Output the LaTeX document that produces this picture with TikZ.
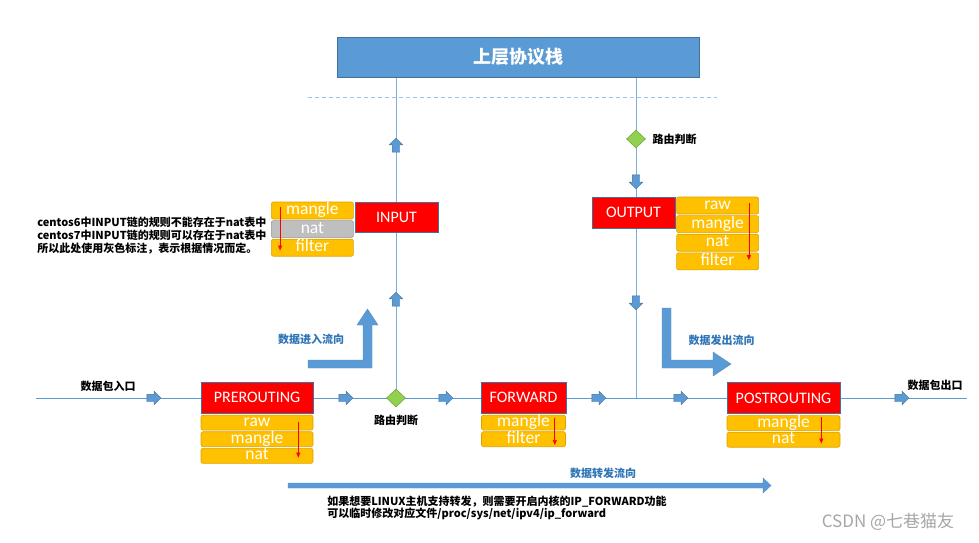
\documentclass[tikz,border=0pt]{standalone}
\usepackage{fontspec}
\setsansfont{Carlito}
\newfontfamily\cjk{Noto Sans CJK SC}
\usepackage{tikz}
\usetikzlibrary{arrows.meta, positioning, shapes.geometric, shapes.arrows, backgrounds}

\definecolor{flowblue}{HTML}{5B9BD5}
\definecolor{edgeblue}{HTML}{41719C}
\definecolor{sepblue}{HTML}{9DC3E6}
\definecolor{labelblue}{HTML}{2E75B6}
\definecolor{tblyellow}{HTML}{FFC000}
\definecolor{tbledge}{HTML}{D9A300}
\definecolor{tblgray}{HTML}{BFBFBF}
\definecolor{judgegreen}{HTML}{92D050}

\begin{document}
\begin{tikzpicture}[x=1pt, y=-1pt, semithick]
	\tikzstyle{protostack}=[rectangle, draw=edgeblue, fill=flowblue, text=white, minimum width=362pt, minimum height=40pt, font=\cjk\bfseries\fontsize{18}{18}\selectfont]
	\tikzstyle{chainbox}=[rectangle, draw=edgeblue, fill=red, text=white, inner sep=0pt, minimum height=31pt, font=\sffamily\fontsize{16}{16}\selectfont]
	\tikzstyle{tablerow}=[rectangle, rounded corners=2pt, draw=tbledge, fill=tblyellow, text=white, inner sep=0pt, minimum height=15pt, text height=11.5pt, text depth=3.5pt, font=\sffamily\fontsize{17.5}{17.5}\selectfont]
	\tikzstyle{routing}=[diamond, fill=judgegreen, draw=judgegreen!80!black, inner sep=0pt, minimum width=19pt, minimum height=18pt]
	\tikzstyle{flowtip}=[single arrow, fill=flowblue, draw=edgeblue, line width=0.4pt, inner sep=3.5pt, minimum width=13pt, minimum height=14pt, single arrow head extend=3pt]
	\tikzstyle{bigflow}=[fill=flowblue, draw=flowblue!90!black, line width=0.4pt]
	\tikzstyle{wire}=[flowblue, line width=0.9pt]
	\tikzstyle{order}=[red, line width=0.7pt, -{Triangle[length=5pt, width=4pt]}]
	\tikzstyle{cjklabel}=[inner sep=0pt, font=\cjk\bfseries\fontsize{11}{13}\selectfont]
	\tikzstyle{flowlabel}=[cjklabel, text=labelblue]

	\useasboundingbox (0,0) rectangle (979,542);

	\coordinate (in) at (36,398);
	\coordinate (out) at (967,398);
	\coordinate (sepl) at (308,97);
	\coordinate (sepr) at (717,97);

	\node[protostack] (proto) at (518,57) {上层协议栈};

	\node[routing] (rt1) at (396,398) {};
	\node[routing] (rt2) at (636,139) {};
	\node[cjklabel, below=7.5pt of rt1] (rt1text) {路由判断};
	\node[cjklabel, right=6.5pt of rt2] (rt2text) {路由判断};

	\node[chainbox, minimum width=112pt] (pre) at (257,397.5) {PREROUTING};
	\node[tablerow, minimum width=112pt, below=1.5pt of pre] (preraw) {raw};
	\node[tablerow, minimum width=112pt, below=1pt of preraw] (premangle) {mangle};
	\node[tablerow, minimum width=112pt, below=1pt of premangle] (prenat) {nat};

	\node[chainbox, minimum width=85pt] (fwd) at (523.5,397.5) {FORWARD};
	\node[tablerow, minimum width=84pt, below=1.5pt of fwd] (fwdmangle) {mangle};
	\node[tablerow, minimum width=84pt, below=1pt of fwdmangle] (fwdfilter) {filter};

	\node[chainbox, minimum width=113pt] (post) at (783.5,398) {POSTROUTING};
	\node[tablerow, minimum width=113pt, below=1.5pt of post] (postmangle) {mangle};
	\node[tablerow, minimum width=113pt, below=1pt of postmangle] (postnat) {nat};

	\node[chainbox, minimum width=83pt, minimum height=30pt] (input) at (396.5,217) {INPUT};
	\node[tablerow, minimum width=82pt, minimum height=17pt, anchor=north east] (inmangle) at ([xshift=-1pt]input.north west) {mangle};
	\node[tablerow, minimum width=82pt, minimum height=17pt, fill=tblgray, draw=gray!80, below=1pt of inmangle] (innat) {nat};
	\node[tablerow, minimum width=82pt, minimum height=17pt, below=1pt of innat] (infilter) {filter};

	\node[chainbox, minimum width=83pt] (output) at (633.5,212.5) {OUTPUT};
	\node[tablerow, minimum width=82pt, minimum height=17pt, anchor=north west] (outraw) at ([xshift=1pt]output.north east) {raw};
	\node[tablerow, minimum width=82pt, minimum height=17pt, below=1pt of outraw] (outmangle) {mangle};
	\node[tablerow, minimum width=82pt, minimum height=17pt, below=1pt of outmangle] (outnat) {nat};
	\node[tablerow, minimum width=82pt, minimum height=17pt, below=1pt of outnat] (outfilter) {filter};

	\draw[order] ([xshift=-15pt, yshift=-7pt]preraw.north east) -- ([xshift=-15pt, yshift=6pt]prenat.south east);
	\draw[order] ([xshift=-11pt, yshift=-3pt]fwdmangle.north east) -- ([xshift=-11pt, yshift=2pt]fwdfilter.south east);
	\draw[order] ([xshift=-19pt, yshift=-2pt]postmangle.north east) -- ([xshift=-19pt, yshift=4pt]postnat.south east);
	\draw[order] ([xshift=9pt, yshift=-5pt]inmangle.north west) -- ([xshift=9pt, yshift=6pt]infilter.south west);
	\draw[order] ([xshift=-10pt, yshift=-6pt]outraw.north east) -- ([xshift=-10pt, yshift=10pt]outfilter.south east);

	\node[flowtip] (a1) at (152,398) {};
	\node[flowtip] (a2) at (344,398) {};
	\node[flowtip] (a3) at (444,398) {};
	\node[flowtip] (a4) at (597,398) {};
	\node[flowtip] (a5) at (679,398) {};
	\node[flowtip] (a6) at (900,398) {};
	\node[flowtip, shape border rotate=90] (u1) at (396,147) {};
	\node[flowtip, shape border rotate=90] (u2) at (396,301) {};
	\node[flowtip, shape border rotate=270] (d1) at (636,180) {};
	\node[flowtip, shape border rotate=270] (d2) at (636,301) {};

	\begin{scope}[on background layer]
		\draw[sepblue, line width=1pt, dash pattern=on 4pt off 3pt] (sepl) -- (sepr);
		\draw[wire] (in) -- (out);
		\draw[wire, flowblue!80] (rt1) -- (rt1 |- proto.south);
		\draw[wire, flowblue!80] (proto.south -| rt2) -- (rt2) -- (rt2 |- in);
	\end{scope}

	\fill[bigflow] (308,360) -- (363,360) -- (363,325) -- (357,325) -- (367.5,309) -- (378,325) -- (372,325) -- (372,368) -- (308,368) -- cycle;
	\fill[bigflow] (662,308) -- (671,308) -- (671,360) -- (713,360) -- (713,352) -- (731,364) -- (713,376) -- (713,368) -- (662,368) -- cycle;
	\fill[bigflow] (288,483) -- (763,483) -- (763,478) -- (771,485.5) -- (763,493) -- (763,488) -- (288,488) -- cycle;

	\node[flowlabel] (inflow) at (311,339) {数据进入流向};
	\node[flowlabel] (outflow) at (721.5,340) {数据发出流向};
	\node[flowlabel] (fwdflow) at (603,473) {数据转发流向};

	\node[cjklabel] (inlabel) at (108,386.5) {数据包入口};
	\node[cjklabel] (outlabel) at (935,385) {数据包出口};

	\node[cjklabel, anchor=west, align=left] (note) at (37,235.5) {centos6中INPUT链的规则不能存在于nat表中\\centos7中INPUT链的规则可以存在于nat表中\\所以此处使用灰色标注，表示根据情况而定。};
	\node[cjklabel, anchor=west, align=left, font=\cjk\bfseries\fontsize{11}{12}\selectfont] (hint) at (327,507.5) {如果想要LINUX主机支持转发，则需要开启内核的IP\_FORWARD功能\\可以临时修改对应文件/proc/sys/net/ipv4/ip\_forward};

	\node[inner sep=0pt, text=gray!70, font=\cjk\fontsize{17}{17}\selectfont] (mark) at (888,522) {CSDN @七巷猫友};
\end{tikzpicture}
\end{document}
